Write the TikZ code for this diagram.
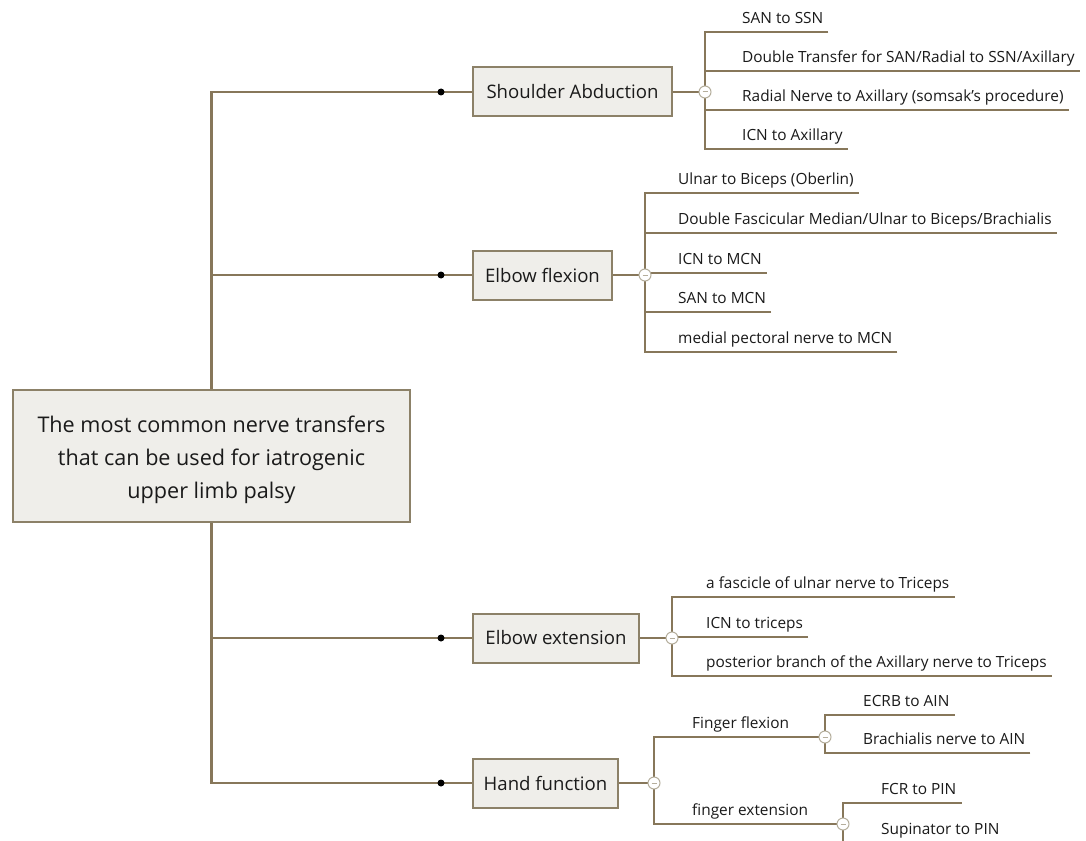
\documentclass[tikz,border=0pt]{standalone}
\usepackage{fontspec}
\setmainfont{Open Sans}
\usetikzlibrary{calc}
\definecolor{ln}{HTML}{87775A}
\definecolor{bx}{HTML}{EFEEEA}
\definecolor{bd}{HTML}{8C8168}
\definecolor{tx}{HTML}{1A1A1A}
\definecolor{cb}{HTML}{B5AE9C}
\pgfdeclarelayer{bg}
\pgfsetlayers{bg,main}
\begin{document}
\begin{tikzpicture}[x=1pt,y=-1pt,
  conn/.style={draw=ln,line width=2.2pt},
  topic/.style={draw=bd,fill=bx,line width=2pt,minimum height=49pt,anchor=west,inner xsep=0pt,
    font=\fontsize{18.6}{21}\selectfont,text=tx},
  leaf/.style={anchor=south west,inner xsep=0pt,inner ysep=8pt,text depth=0pt,
    font=\fontsize{15.4}{17}\selectfont,text=tx},
  knob/.style={circle,draw=cb,fill=white,line width=1pt,minimum size=12pt,inner sep=0pt,
    path picture={\draw[cb,line width=1pt] ([xshift=3.5pt]path picture bounding box.west) -- ([xshift=-3.5pt]path picture bounding box.east);}},
  dot/.style={circle,fill=black,minimum size=7pt,inner sep=0pt}]
\useasboundingbox (0,0) rectangle (1086,840);
\clip (0,0) rectangle (1086,840);

% root
\node[draw=bd,fill=bx,line width=2pt,minimum width=397pt,minimum height=132pt,align=center,
  font=\fontsize{21.6}{33}\selectfont,text=tx] (root) at (211.5,456)
  {\rule{0pt}{24pt}The most common nerve transfers\\that can be used for iatrogenic\\upper limb palsy};

% main topics
\node[topic,minimum width=199pt] (sa) at (472,92) {Shoulder Abduction};
\node[topic,minimum width=139pt] (ef) at (472,275) {Elbow flexion};
\node[topic,minimum width=166pt] (ee) at (472,638) {Elbow extension};
\node[topic,minimum width=145pt] (hf) at (472,783) {Hand function};

\node[dot] (d1) at (441,92) {};
\node[dot] (d2) at (441,275) {};
\node[dot] (d3) at (441,638) {};
\node[dot] (d4) at (441,783) {};

% knobs
\node[knob] (sac) at (705,92) {};
\node[knob] (efc) at (645,275) {};
\node[knob] (eec) at (672,638) {};
\node[knob] (hfc) at (654,783) {};
\node[knob] (ffc) at (825,737) {};
\node[knob] (fec) at (843,824) {};

% leaves: shoulder
\node[leaf] (s1) at (742,32) {SAN to SSN};
\node[leaf] (s2) at (742,71) {Double Transfer for SAN/Radial to SSN/Axillary};
\node[leaf] (s3) at (742,110) {Radial Nerve to Axillary (somsak's procedure)};
\node[leaf] (s4) at (742,149) {ICN to Axillary};
% leaves: elbow flexion
\node[leaf] (e1) at (678,193) {Ulnar to Biceps (Oberlin)};
\node[leaf] (e2) at (678,233) {Double Fascicular Median/Ulnar to Biceps/Brachialis};
\node[leaf] (e3) at (678,273) {ICN to MCN};
\node[leaf] (e4) at (678,312) {SAN to MCN};
\node[leaf] (e5) at (678,352) {medial pectoral nerve to MCN};
% leaves: elbow extension
\node[leaf] (x1) at (706,597) {a fascicle of ulnar nerve to Triceps};
\node[leaf] (x2) at (706,637) {ICN to triceps};
\node[leaf] (x3) at (706,676) {posterior branch of the Axillary nerve to Triceps};
% hand function
\node[leaf] (ffl) at (692,737) {Finger flexion};
\node[leaf] (fel) at (692,824) {finger extension};
\node[leaf] (h1) at (863,715) {ECRB to AIN};
\node[leaf] (h2) at (863,753) {Brachialis nerve to AIN};
\node[leaf] (h3) at (881,803) {FCR to PIN};
\node[leaf] (h4) at (881,843) {Supinator to PIN};

\begin{pgfonlayer}{bg}
\fill[white] (0,0) rectangle (1086,840);
\draw[conn] (root.north) |- (sa.west);
\draw[conn] (root.north) |- (ef.west);
\draw[conn] (root.south) |- (ee.west);
\draw[conn] (root.south) |- (hf.west);
\draw[conn] (sa.east) -- (sac.center);
\draw[conn] (ef.east) -- (efc.center);
\draw[conn] (ee.east) -- (eec.center);
\draw[conn] (hf.east) -- (hfc.center);
\foreach \l in {s1,s2,s3,s4} \draw[conn] ([xshift=5pt]\l.south east) -| (sac.center);
\foreach \l in {e1,e2,e3,e4,e5} \draw[conn] ([xshift=5pt]\l.south east) -| (efc.center);
\foreach \l in {x1,x2,x3} \draw[conn] ([xshift=5pt]\l.south east) -| (eec.center);
\draw[conn] (hfc.center) |- (ffc.center);
\draw[conn] (hfc.center) |- (fec.center);
\foreach \l in {h1,h2} \draw[conn] ([xshift=5pt]\l.south east) -| (ffc.center);
\foreach \l in {h3,h4} \draw[conn] ([xshift=5pt]\l.south east) -| (fec.center);
\end{pgfonlayer}
\end{tikzpicture}
\end{document}
